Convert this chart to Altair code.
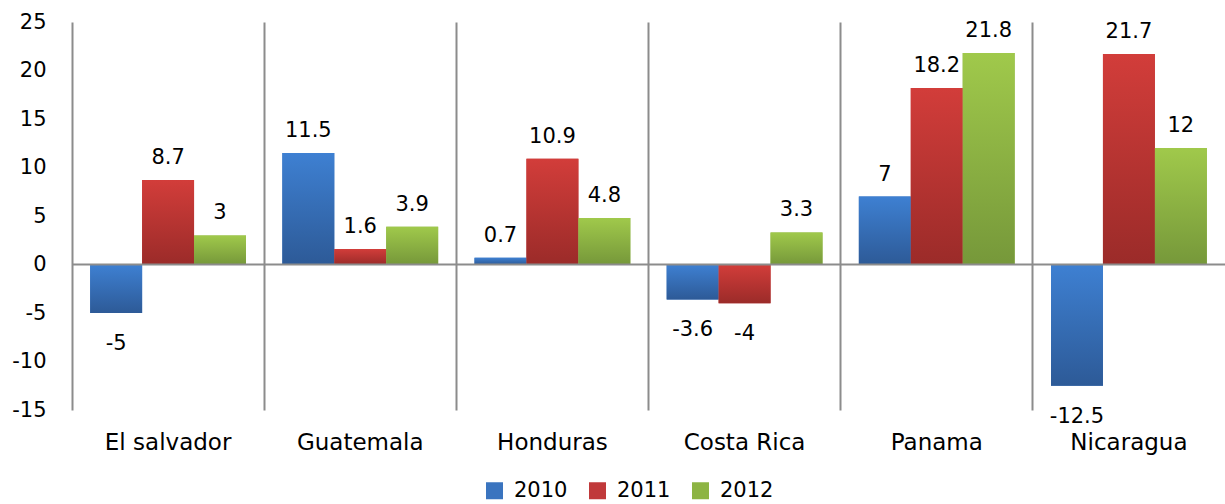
import altair as alt
import pandas as pd

countries = ["El salvador", "Guatemala", "Honduras", "Costa Rica", "Panama", "Nicaragua"]
years = ["2010", "2011", "2012"]
v2010 = [-5, 11.5, 0.7, -3.6, 7, -12.5]
v2011 = [8.7, 1.6, 10.9, -4, 18.2, 21.7]
v2012 = [3, 3.9, 4.8, 3.3, 21.8, 12]

y_ticks = [-15, -10, -5, 0, 5, 10, 15, 20, 25]

flat_colors = ["#3a74bf", "#c0393a", "#8db443"]
gradients = {
    "2010": ("#3e80d2", "#2d5a97"),
    "2011": ("#d23d3a", "#9b2b29"),
    "2012": ("#a0c94b", "#76983a"),
}

rows = []
for year, series in zip(years, [v2010, v2011, v2012]):
    for country, v in zip(countries, series):
        rows.append({"country": country, "year": year, "value": v, "label": f"{v:g}"})
df = pd.DataFrame(rows)

FONT = "DejaVu Sans"
GRID = "#8c8c8c"

x_enc = alt.X(
    "country:N",
    sort=countries,
    scale=alt.Scale(domain=countries, paddingInner=0, paddingOuter=0),
    axis=alt.Axis(
        title=None, grid=True, bandPosition=0, gridColor=GRID, gridWidth=2,
        domain=False, ticks=False, labelFontSize=23, labelPadding=21,
        labelColor="black", labelAngle=0,
    ),
)
xoff_enc = alt.XOffset(
    "year:N", sort=years,
    scale=alt.Scale(domain=years, paddingOuter=0.35, paddingInner=0),
)
y_enc = alt.Y(
    "value:Q",
    scale=alt.Scale(domain=[-15, 25], nice=False, zero=True),
    axis=alt.Axis(
        title=None, grid=False, domain=False, ticks=False, values=y_ticks,
        labelFontSize=21, labelPadding=26, labelColor="black",
        labelExpr="datum.value + ''",
    ),
)

base = alt.Chart(df).encode(x=x_enc, xOffset=xoff_enc, y=y_enc)

# flat bars carry the legend; gradient bars are painted over them
legend_bars = base.mark_bar().encode(
    color=alt.Color(
        "year:N",
        scale=alt.Scale(domain=years, range=flat_colors),
        legend=alt.Legend(
            orient="none", legendX=412, legendY=458, direction="horizontal",
            title=None, symbolType="square", symbolSize=289, symbolStrokeWidth=0,
            labelFontSize=21, labelOffset=9, columnPadding=19, labelColor="black",
        ),
    )
)

layers = [legend_bars]
for year in years:
    top, bottom = gradients[year]
    layers.append(
        base.transform_filter(alt.datum.year == year).mark_bar(
            color={
                "gradient": "linear", "x1": 0, "y1": 0, "x2": 0, "y2": 1,
                "stops": [{"offset": 0, "color": top}, {"offset": 1, "color": bottom}],
            }
        )
    )

zero_rule = alt.Chart(pd.DataFrame({"zero": [0]})).mark_rule(
    color=GRID, strokeWidth=2
).encode(y="zero:Q")

pos_labels = base.transform_filter(alt.datum.value >= 0).mark_text(
    dy=-22, fontSize=21, color="black", baseline="middle"
).encode(text="label:N")
neg_labels = base.transform_filter(alt.datum.value < 0).mark_text(
    dy=31, fontSize=21, color="black", baseline="middle"
).encode(text="label:N")

chart = alt.layer(*layers, zero_rule, pos_labels, neg_labels).properties(
    width=1153,
    height=388,
    autosize=alt.AutoSizeParams(type="none"),
    padding={"left": 72, "top": 22, "right": 0, "bottom": 94},
).configure(font=FONT).configure_view(stroke=None)

chart.save("out.html", embed_options={"renderer": "svg", "actions": False})
